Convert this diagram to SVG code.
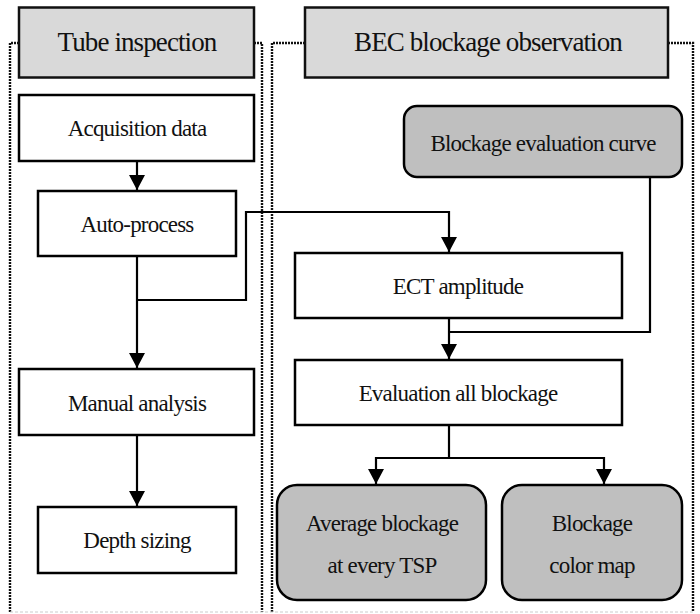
<svg xmlns="http://www.w3.org/2000/svg" width="700" height="614" viewBox="0 0 700 614">
  <style>
    .box { fill: #ffffff; stroke: #000; stroke-width: 2.5; }
    .head { fill: #d9d9d9; stroke: #111; stroke-width: 2.5; }
    .res { fill: #bfbfbf; stroke: #000; stroke-width: 2.5; }
    .lbl { font-size: 23px; letter-spacing: -0.8px; fill: #111; text-anchor: middle; }
    .htxt { font-size: 27px; letter-spacing: -0.9px; fill: #111; text-anchor: middle; }
    .dot { fill: none; stroke: #111; stroke-width: 2.4; stroke-dasharray: 2 1; }
    .edge { fill: none; stroke: #000; stroke-width: 2.2; }
  </style>
  <defs>
    <marker id="arr" markerUnits="userSpaceOnUse" markerWidth="18" markerHeight="16" viewBox="0 0 16 16" refX="15" refY="8" orient="auto">
      <path d="M0,0 L15,8 L0,16 Z" fill="#000"/>
    </marker>
  </defs>

  <rect width="700" height="614" fill="#ffffff"/>

  <!-- lane borders -->
  <g id="lanes">
    <path class="dot" d="M19,43 H10 V612"/>
    <path class="dot" d="M254,43 H262 V612"/>
    <path class="dot" d="M305,43 H272 V612"/>
    <path class="dot" d="M668,43 H693 V612"/>
    <path d="M10,612 H693" fill="none" stroke="#cccccc" stroke-width="1.2" stroke-dasharray="3 2"/>
  </g>

  <g font-family="'Liberation Serif', 'Times New Roman', Times, serif">
  <!-- lane headers -->
  <g id="hdr-tube">
    <rect class="head" x="19" y="7.5" width="235" height="70"/>
    <text class="htxt" x="137" y="51">Tube inspection</text>
  </g>
  <g id="hdr-bec">
    <rect class="head" x="305" y="7.5" width="363" height="70"/>
    <text class="htxt" x="488" y="51">BEC blockage observation</text>
  </g>

  <!-- connectors -->
  <g id="connectors">
    <path class="edge" d="M137,161 V190" marker-end="url(#arr)"/>
    <path class="edge" d="M137,256 V368" marker-end="url(#arr)"/>
    <path class="edge" d="M137,435 V506" marker-end="url(#arr)"/>
    <path class="edge" d="M136,300 H246 V212 H449 V252" marker-end="url(#arr)"/>
    <path class="edge" d="M650,177 V332 H449"/>
    <path class="edge" d="M449,318 V359" marker-end="url(#arr)"/>
    <path class="edge" d="M449,425 V458"/>
    <path class="edge" d="M449,458 H376 V484" marker-end="url(#arr)"/>
    <path class="edge" d="M449,458 H604 V484" marker-end="url(#arr)"/>
  </g>

  <!-- tube inspection lane -->
  <g id="acq">
    <rect class="box" x="19" y="95" width="235" height="66"/>
    <text class="lbl" x="137" y="136">Acquisition data</text>
  </g>
  <g id="auto">
    <rect class="box" x="38" y="191" width="198" height="65"/>
    <text class="lbl" x="137" y="232">Auto-process</text>
  </g>
  <g id="manual">
    <rect class="box" x="19" y="369" width="235" height="66"/>
    <text class="lbl" x="137" y="411">Manual analysis</text>
  </g>
  <g id="depth">
    <rect class="box" x="38" y="507" width="198" height="66"/>
    <text class="lbl" x="137" y="548">Depth sizing</text>
  </g>

  <!-- BEC lane -->
  <g id="curve">
    <rect class="res" x="404" y="106" width="278" height="71" rx="13"/>
    <text class="lbl" x="543" y="151">Blockage evaluation curve</text>
  </g>
  <g id="ect">
    <rect class="box" x="295" y="253" width="327" height="65"/>
    <text class="lbl" x="458" y="294">ECT amplitude</text>
  </g>
  <g id="eval">
    <rect class="box" x="295" y="360" width="327" height="65"/>
    <text class="lbl" x="458" y="401">Evaluation all blockage</text>
  </g>
  <g id="avg">
    <rect class="res" x="277" y="485" width="209" height="115" rx="20"/>
    <text class="lbl" x="382" y="531">Average blockage</text>
    <text class="lbl" x="382" y="573">at every TSP</text>
  </g>
  <g id="cmap">
    <rect class="res" x="502" y="485" width="180" height="115" rx="20"/>
    <text class="lbl" x="592" y="531">Blockage</text>
    <text class="lbl" x="592" y="573">color map</text>
  </g>
  </g>
</svg>
